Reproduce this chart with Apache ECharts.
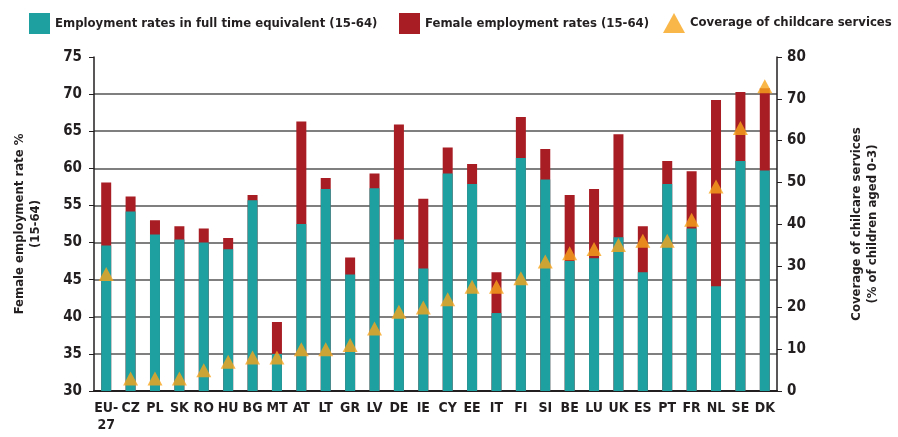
<!DOCTYPE html>
<html>
<head>
<meta charset="utf-8">
<script src="https://cdn.jsdelivr.net/npm/echarts@6/dist/echarts.min.js"></script>
<style>
  html, body { margin: 0; padding: 0; background: #fff; }
  #chart { width: 898px; height: 437px; }
</style>
</head>
<body>
<div id="chart"></div>
<script>
const categories = ["EU-\n27", "CZ", "PL", "SK", "RO", "HU", "BG", "MT", "AT", "LT", "GR", "LV", "DE", "IE",
  "CY", "EE", "IT", "FI", "SI", "BE", "LU", "UK", "ES", "PT", "FR", "NL", "SE", "DK"];
// employment rate in full time equivalent (15-64), %
const fteRates = [49.6, 54.2, 51.1, 50.4, 50.0, 49.1, 55.7, 35.0, 52.5, 57.2, 45.7, 57.3, 50.4, 46.5,
  59.3, 57.9, 40.5, 61.4, 58.5, 47.5, 47.9, 50.7, 46.0, 57.9, 51.9, 44.1, 61.0, 59.7];
// female employment rate (15-64), %
const femaleRates = [58.1, 56.2, 53.0, 52.2, 51.9, 50.6, 56.4, 39.3, 66.3, 58.7, 48.0, 59.3, 65.9, 55.9,
  62.8, 60.6, 46.0, 66.9, 62.6, 56.4, 57.2, 64.6, 52.2, 61.0, 59.6, 69.2, 70.3, 70.8];
// coverage of childcare services (% of children aged 0-3)
const childcare = [28, 3, 3, 3, 5, 7, 8, 8, 10, 10, 11, 15, 19, 20,
  22, 25, 25, 27, 31, 33, 34, 35, 36, 36, 41, 49, 63, 73];

const FONT = "'Liberation Sans Narrow', 'DejaVu Sans Condensed', sans-serif";
const TXT = "#231f20";

const legendText = { fontFamily: FONT, fontWeight: "bold", fontSize: 13, color: TXT };
const legendBase = { top: 8, itemWidth: 21, itemHeight: 21, textStyle: legendText };

const chart = echarts.init(document.getElementById("chart"));
chart.setOption({
  animation: false,
  textStyle: { fontFamily: FONT, color: TXT },
  // one legend per item so each sits where it does in the original
  legend: [
    Object.assign({ left: 24, data: [{ name: "Employment rates in full time equivalent (15-64)", icon: "rect" }] }, legendBase),
    Object.assign({ left: 394, data: [{ name: "Female employment rates (15-64)", icon: "rect" }] }, legendBase),
    Object.assign({ left: 658, itemWidth: 22, itemHeight: 20, data: [{ name: "Coverage of childcare services", icon: "triangle" }] },
      { top: 8, textStyle: legendText }),
  ],
  grid: { left: 94, right: 121, top: 57, bottom: 46 },
  xAxis: {
    type: "category",
    data: categories,
    axisLine: { lineStyle: { color: TXT, width: 2 } },
    axisTick: { length: 5, lineStyle: { color: TXT } },
    axisLabel: {
      interval: 0,
      margin: 9,
      fontFamily: FONT,
      fontWeight: "bold",
      fontSize: 14,
      color: TXT,
      lineHeight: 17,
    },
  },
  yAxis: [
    {
      type: "value",
      min: 30,
      max: 75,
      interval: 5,
      name: "Female employment rate %\n(15-64)",
      nameLocation: "middle",
      nameRotate: 90,
      nameGap: 50,
      nameTextStyle: { fontFamily: FONT, fontWeight: "bold", fontSize: 13, color: TXT, lineHeight: 16 },
      axisLine: { show: true, lineStyle: { color: TXT, width: 1.5 } },
      axisTick: { show: true, length: 5, lineStyle: { color: TXT } },
      axisLabel: { fontFamily: FONT, fontWeight: "bold", fontSize: 15, color: TXT, margin: 12 },
      splitLine: {
        show: true,
        showMinLine: false,
        showMaxLine: false,
        lineStyle: { color: "#555", width: 1.5 },
      },
    },
    {
      type: "value",
      min: 0,
      max: 80,
      interval: 10,
      name: "Coverage of chilcare services\n(% of children aged 0-3)",
      nameLocation: "middle",
      nameRotate: 90,
      nameGap: 72,
      nameTextStyle: { fontFamily: FONT, fontWeight: "bold", fontSize: 13, color: TXT, lineHeight: 16 },
      axisLine: { show: true, lineStyle: { color: TXT, width: 1.5 } },
      axisTick: { show: true, length: 5, lineStyle: { color: TXT } },
      axisLabel: { fontFamily: FONT, fontWeight: "bold", fontSize: 15, color: TXT, margin: 10 },
      splitLine: { show: false },
    },
  ],
  series: [
    {
      name: "Employment rates in full time equivalent (15-64)",
      type: "bar",
      yAxisIndex: 0,
      data: fteRates,
      barWidth: 10,
      barGap: "-100%",
      z: 3,
      itemStyle: { color: "#1fa0a0" },
    },
    {
      name: "Female employment rates (15-64)",
      type: "bar",
      yAxisIndex: 0,
      data: femaleRates,
      barWidth: 10,
      barGap: "-100%",
      z: 2,
      itemStyle: { color: "#a81d23" },
    },
    {
      name: "Coverage of childcare services",
      type: "scatter",
      yAxisIndex: 1,
      data: childcare,
      symbol: "triangle",
      symbolSize: [15, 14],
      z: 4,
      itemStyle: { color: "#f7a51c" },
    },
  ],
});
</script>
</body>
</html>
